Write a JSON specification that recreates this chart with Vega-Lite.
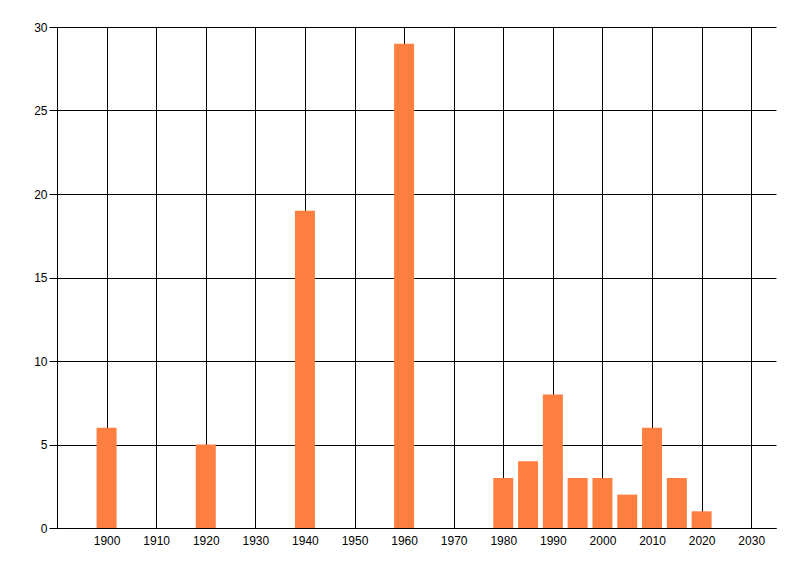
{
  "$schema": "https://vega.github.io/schema/vega-lite/v6.json",
  "width": 719,
  "height": 501,
  "autosize": {"type": "none"},
  "padding": {"left": 57, "top": 27, "right": 24, "bottom": 48},
  "background": "white",
  "config": {
    "view": {"stroke": null},
    "axis": {
      "labelFont": "Liberation Sans",
      "labelFontSize": 12,
      "labelColor": "#000000",
      "gridColor": "#000000",
      "gridOpacity": 1,
      "gridWidth": 1,
      "domainColor": "#000000",
      "domainWidth": 1,
      "tickColor": "#000000",
      "title": null
    }
  },
  "data": {
    "values": [
      {"year": 1900, "count": 6},
      {"year": 1920, "count": 5},
      {"year": 1940, "count": 19},
      {"year": 1960, "count": 29},
      {"year": 1980, "count": 3},
      {"year": 1985, "count": 4},
      {"year": 1990, "count": 8},
      {"year": 1995, "count": 3},
      {"year": 2000, "count": 3},
      {"year": 2005, "count": 2},
      {"year": 2010, "count": 6},
      {"year": 2015, "count": 3},
      {"year": 2020, "count": 1}
    ]
  },
  "mark": {"type": "bar", "width": 20, "color": "#FF7F40"},
  "encoding": {
    "x": {
      "field": "year",
      "type": "quantitative",
      "scale": {"domain": [1890, 2035], "nice": false, "zero": false, "padding": 0},
      "axis": {
        "values": [1900, 1910, 1920, 1930, 1940, 1950, 1960, 1970, 1980, 1990, 2000, 2010, 2020, 2030],
        "format": "d",
        "ticks": false,
        "labelPadding": 7,
        "grid": true
      }
    },
    "y": {
      "field": "count",
      "type": "quantitative",
      "scale": {"domain": [0, 30], "nice": false},
      "axis": {
        "values": [0, 5, 10, 15, 20, 25, 30],
        "tickSize": 8,
        "labelPadding": 2,
        "grid": true
      }
    }
  }
}
